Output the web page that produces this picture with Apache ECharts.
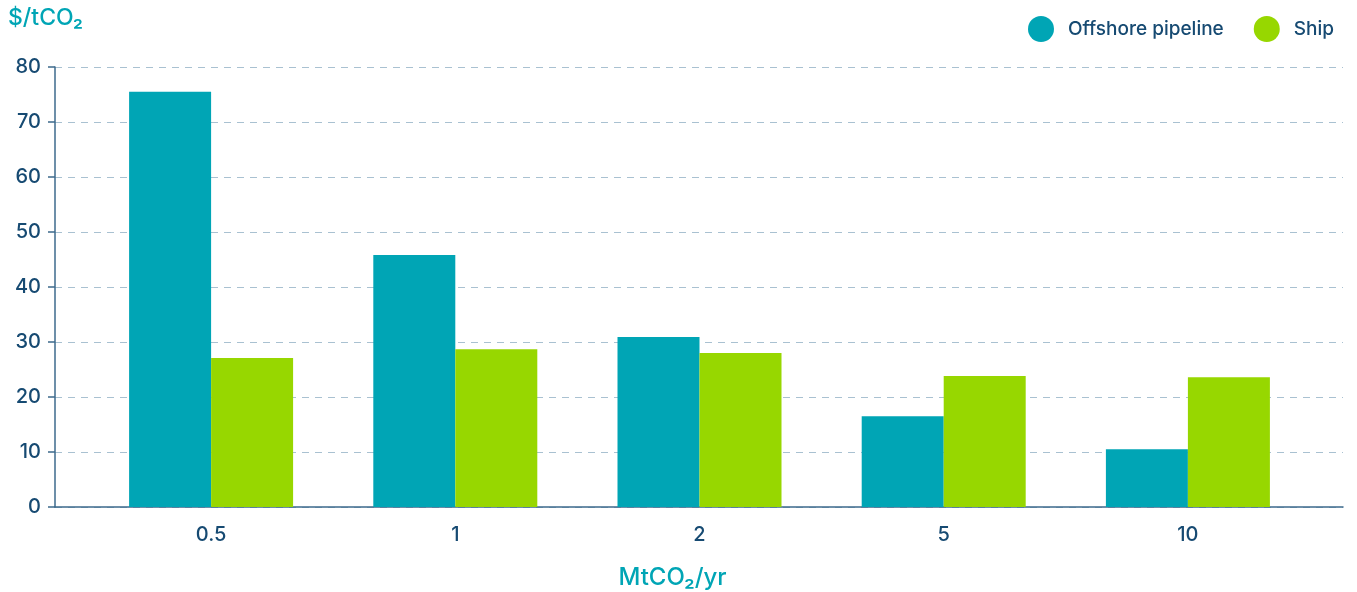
<!DOCTYPE html>
<html>
<head>
<meta charset="utf-8">
<script src="https://cdn.jsdelivr.net/npm/echarts@6/dist/echarts.min.js"></script>
<style>
  html, body { margin: 0; padding: 0; background: #fff; }
  #chart { width: 1357px; height: 592px; }
</style>
</head>
<body>
<div id="chart"></div>
<script>
// 运输量 (MtCO2/yr) 与成本
var categories = ['0.5', '1', '2', '5', '10'];
var pipelineData = [75.5, 45.8, 30.9, 16.5, 10.5];
var shipData = [27.1, 28.7, 28.0, 23.8, 23.6];
var yTicks = [0, 10, 20, 30, 40, 50, 60, 70, 80];

var navy = '#164a72';
var teal = '#00a5b5';
var green = '#97d700';
var axisColor = '#3d6a8c';
var font = 'Inter';

var yMin = yTicks[0], yMax = yTicks[yTicks.length - 1];

var option = {
    animation: false,
    textStyle: { fontFamily: font },
    title: {
        text: '$/tCO₂',
        left: 3,
        top: 2,
        textStyle: { color: teal, fontSize: 23, fontWeight: 500, fontFamily: font }
    },
    legend: {
        right: 18,
        top: 11,
        icon: 'circle',
        itemWidth: 26,
        itemHeight: 26,
        itemGap: 30,
        textStyle: { color: navy, fontSize: 19, fontWeight: 500, fontFamily: font, padding: [0, 0, 0, 9] },
        data: ['Offshore pipeline', 'Ship']
    },
    // 外层网格画虚线和坐标轴，内层网格放柱子
    grid: [
        { left: 55, right: 14, top: 67, bottom: 85, outerBoundsMode: 'none' },
        { left: 89, right: 47, top: 67, bottom: 85, outerBoundsMode: 'none' }
    ],
    xAxis: [
        {
            type: 'value',
            gridIndex: 0,
            min: 0,
            max: 1,
            axisLine: { show: true, onZero: false, lineStyle: { color: axisColor, width: 1.5 } },
            axisTick: { show: false },
            axisLabel: { show: false },
            splitLine: { show: false }
        },
        {
            type: 'category',
            gridIndex: 1,
            data: categories,
            name: 'MtCO₂/yr',
            nameLocation: 'middle',
            nameGap: 59,
            nameTextStyle: { color: teal, fontSize: 24, fontWeight: 500, fontFamily: font, padding: [0, 54, 0, 0] },
            axisLine: { show: false },
            axisTick: { show: false },
            axisLabel: { color: navy, fontSize: 20, fontWeight: 500, margin: 18, fontFamily: font }
        }
    ],
    yAxis: [
        {
            type: 'value',
            gridIndex: 0,
            min: yMin,
            max: yMax,
            interval: 10,
            axisLine: { show: true, lineStyle: { color: axisColor, width: 1.5 } },
            axisTick: { show: true, length: 7, lineStyle: { color: axisColor, width: 1.5 } },
            axisLabel: { color: navy, fontSize: 20, fontWeight: 500, margin: 14, fontFamily: font },
            splitLine: { lineStyle: { color: '#a9c1d1', type: [7, 6], width: 1.2 } }
        },
        {
            type: 'value',
            gridIndex: 1,
            min: yMin,
            max: yMax,
            show: false
        }
    ],
    series: [
        {
            name: 'Offshore pipeline',
            type: 'bar',
            xAxisIndex: 1,
            yAxisIndex: 1,
            data: pipelineData,
            barWidth: 82,
            barGap: '0%',
            itemStyle: { color: teal }
        },
        {
            name: 'Ship',
            type: 'bar',
            xAxisIndex: 1,
            yAxisIndex: 1,
            data: shipData,
            barWidth: 82,
            barGap: '0%',
            itemStyle: { color: green }
        }
    ]
};

var myChart = echarts.init(document.getElementById('chart'));
myChart.setOption(option);
</script>
</body>
</html>
